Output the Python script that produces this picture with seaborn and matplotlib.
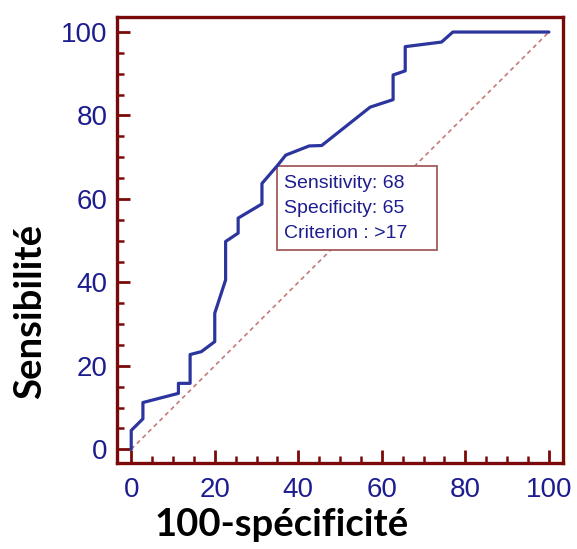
import matplotlib
matplotlib.use("Agg")
import matplotlib.pyplot as plt
from matplotlib.ticker import MultipleLocator
from matplotlib.patches import Rectangle
import seaborn as sns
import pandas as pd

# ROC curve vertices: 100 - specificity (x) and sensitivity (y), in percent
fpr = [0, 0, 2.8, 2.8, 11.3, 11.3, 14.1, 14.1, 16.8, 20.0, 20.0, 22.6, 22.6,
       25.6, 25.6, 31.3, 31.3, 35.0, 37.0, 42.6, 45.6, 57.2, 62.7, 62.7,
       65.6, 65.6, 74.3, 77.0, 100]
tpr = [0, 4.5, 7.3, 11.2, 13.4, 15.8, 15.8, 22.7, 23.4, 25.8, 32.6, 40.6, 49.8,
       51.8, 55.4, 58.8, 63.7, 68.0, 70.5, 72.7, 72.8, 82.0, 83.8, 89.7,
       90.7, 96.5, 97.6, 100, 100]

# chance line
ref_x = [0, 100]
ref_y = [0, 100]

# optimal criterion
cut_sens = 68
cut_spec = 65
cut_crit = ">17"

ticks = [0, 20, 40, 60, 80, 100]

sns.set_style("white")
plt.rcParams["font.family"] = ["Liberation Sans", "DejaVu Sans"]

spine_col = "#7a0909"
tick_col = "#1d1d8f"
curve_col = "#2c349e"
ref_col = "#c47a7a"
box_col = "#a55a5a"

fig = plt.figure(figsize=(5.77, 5.49), dpi=100)
ax = fig.add_axes([0.2028, 0.1566, 0.7724, 0.8124])

roc = pd.DataFrame({"fpr": fpr, "tpr": tpr})
ref = pd.DataFrame({"x": ref_x, "y": ref_y})

sns.lineplot(data=ref, x="x", y="y", ax=ax, color=ref_col, lw=1.2,
             linestyle=(0, (2.6, 2.2)), sort=False, estimator=None, zorder=1)
sns.lineplot(data=roc, x="fpr", y="tpr", ax=ax, color=curve_col, lw=2.3,
             sort=False, estimator=None, zorder=3)

ax.set_xlim(-3.4, 103.3)
ax.set_ylim(-3.3, 103.6)

for s in ax.spines.values():
    s.set_color(spine_col)
    s.set_linewidth(2.4)
    s.set_visible(True)

ax.xaxis.set_minor_locator(MultipleLocator(5))
ax.yaxis.set_minor_locator(MultipleLocator(5))
ax.set_xticks(ticks)
ax.set_yticks(ticks)
ax.tick_params(which="both", direction="in", color=spine_col,
               bottom=True, left=True, top=False, right=False)
ax.tick_params(which="major", length=9.5, width=2.0)
ax.tick_params(which="minor", length=5, width=1.8)
ax.tick_params(axis="x", which="major", labelsize=20, labelcolor=tick_col, pad=10)
ax.tick_params(axis="y", which="major", labelsize=20, labelcolor=tick_col, pad=7)

# criterion box anchored at the cut-off point
cx = 100 - cut_spec
ax.add_patch(Rectangle((cx, cut_sens), 38.2, -20.3, facecolor="white",
                       edgecolor=box_col, lw=1.3, zorder=2))
ax.annotate(f"Sensitivity: {cut_sens}\nSpecificity: {cut_spec}\nCriterion : {cut_crit}",
            xy=(cx, cut_sens), xytext=(4.5, -6.5), textcoords="offset points",
            ha="left", va="top", fontsize=14, color=tick_col,
            linespacing=1.62, zorder=4)

lab_font = dict(family=["Lato", "DejaVu Sans"], weight="bold", color="black")
ax.set_xlabel("100-spécificité", fontsize=27.5, **lab_font)
ax.set_ylabel("Sensibilité", fontsize=27.5, **lab_font)
ax.xaxis.set_label_coords(0.37, -0.1)
ax.xaxis.label.set_va("top")
ax.yaxis.set_label_coords(-0.195, 0.339)
ax.yaxis.label.set_va("center")
ax.yaxis.label.set_ha("center")

fig.savefig("out.png", dpi=100, facecolor="white")
